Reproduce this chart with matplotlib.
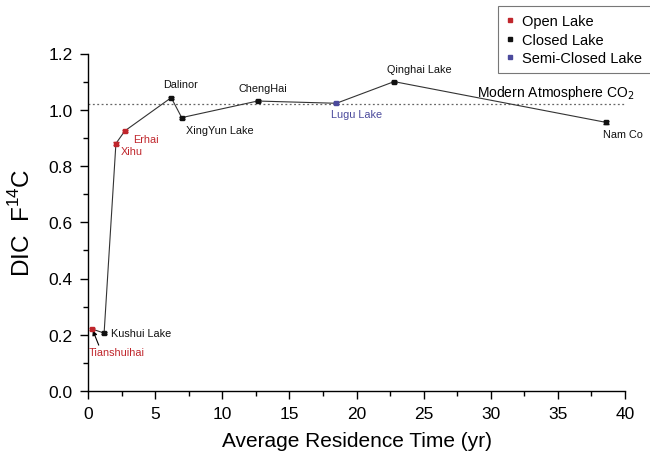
import matplotlib
matplotlib.use("Agg")
import matplotlib.pyplot as plt
from matplotlib.ticker import MultipleLocator, FormatStrFormatter
from matplotlib.lines import Line2D

plt.rcParams['font.family'] = ['Liberation Sans', 'DejaVu Sans']

# Data
lakes = ["Tianshuihai", "Kushui Lake", "Xihu", "Erhai", "Dalinor",
         "XingYun Lake", "ChengHai", "Lugu Lake", "Qinghai Lake", "Nam Co"]
residence = [0.32, 1.2, 2.08, 2.75, 6.2, 6.98, 12.63, 18.5, 22.8, 38.6]
f14c = [0.22, 0.206, 0.88, 0.925, 1.043, 0.972, 1.031, 1.023, 1.10, 0.955]
f14c_err = [0.004] * 10
lake_type = ["Open", "Closed", "Open", "Open", "Closed",
             "Closed", "Closed", "Semi", "Closed", "Closed"]
modern_co2 = 1.02

colors = {"Open": "#c0262c", "Closed": "#111111", "Semi": "#4b4a9c"}
legend_labels = {"Open": "Open Lake", "Closed": "Closed Lake", "Semi": "Semi-Closed Lake"}

fig = plt.figure(figsize=(6.5, 4.64), dpi=100)
ax = fig.add_axes([88/650, 1-392/464, (625-88)/650, (392-54.5)/464])

ax.plot(residence, f14c, color="#333333", lw=0.8, zorder=2)
for x, y, e, t in zip(residence, f14c, f14c_err, lake_type):
    ax.errorbar(x, y, yerr=e, fmt='s', ms=3.2, color=colors[t], ecolor=colors[t],
                capsize=2.5, elinewidth=0.8, capthick=1.0, zorder=3)

ax.plot([0, 40], [modern_co2, modern_co2], color="#666666", lw=0.9,
        linestyle=(0, (1.5, 2)), zorder=1)
ax.text(40.7, modern_co2 + 0.01, "Modern Atmosphere CO$_2$", fontsize=10,
        ha="right", va="bottom", clip_on=False)

# annotations (label, dx, dy offsets in data, ha, va)
ann = {
    "Kushui Lake": (0.55, 0.0, "left", "center"),
    "Xihu": (0.35, -0.025, "left", "center"),
    "Erhai": (0.6, -0.03, "left", "center"),
    "Dalinor": (0.7, 0.03, "center", "bottom"),
    "XingYun Lake": (0.3, -0.025, "left", "top"),
    "ChengHai": (0.4, 0.028, "center", "bottom"),
    "Lugu Lake": (1.5, -0.02, "center", "top"),
    "Qinghai Lake": (1.85, 0.028, "center", "bottom"),
    "Nam Co": (1.25, -0.025, "center", "top"),
}
for name, x, y, t in zip(lakes, residence, f14c, lake_type):
    if name in ann:
        dx, dy, ha, va = ann[name]
        ax.text(x + dx, y + dy, name, fontsize=7.8, color=colors[t], ha=ha, va=va)

# Tianshuihai label with arrow
ax.text(2.1, 0.14, "Tianshuihai", fontsize=7.8, color=colors["Open"],
        ha="center", va="center")
ax.annotate("", xy=(residence[0], f14c[0]), xytext=(0.8, 0.163),
            arrowprops=dict(arrowstyle="-|>", color="black", lw=0.8,
                            mutation_scale=7, shrinkA=0, shrinkB=1))

ax.set_xlim(0, 40)
ax.set_ylim(0, 1.2)
ax.xaxis.set_major_locator(MultipleLocator(5))
ax.xaxis.set_minor_locator(MultipleLocator(2.5))
ax.yaxis.set_major_locator(MultipleLocator(0.2))
ax.yaxis.set_minor_locator(MultipleLocator(0.1))
ax.yaxis.set_major_formatter(FormatStrFormatter('%.1f'))
ax.spines['top'].set_visible(False)
ax.spines['right'].set_visible(False)
ax.spines['left'].set_linewidth(1.0)
ax.spines['bottom'].set_linewidth(1.0)
ax.tick_params(which='major', direction='out', length=6, width=1.0, labelsize=12.5, pad=5)
ax.tick_params(which='minor', direction='out', length=3.5, width=1.0)

ax.set_xlabel("Average Residence Time (yr)", fontsize=15, labelpad=7)
ax.set_ylabel("DIC  F$^{\\mathregular{14}}$C", fontsize=17.5, labelpad=10)

handles = [Line2D([], [], marker='s', ls='', ms=3, color=colors[k]) for k in ["Open", "Closed", "Semi"]]
leg = fig.legend(handles, [legend_labels[k] for k in ["Open", "Closed", "Semi"]],
                 loc="upper right", bbox_to_anchor=(1.012, 1.0), fontsize=10.5,
                 frameon=True, fancybox=False, edgecolor="#555555",
                 handlelength=0.5, handletextpad=0.6, labelspacing=0.3,
                 borderpad=0.55)
leg.get_frame().set_linewidth(0.8)

fig.savefig("out.png", dpi=100)
